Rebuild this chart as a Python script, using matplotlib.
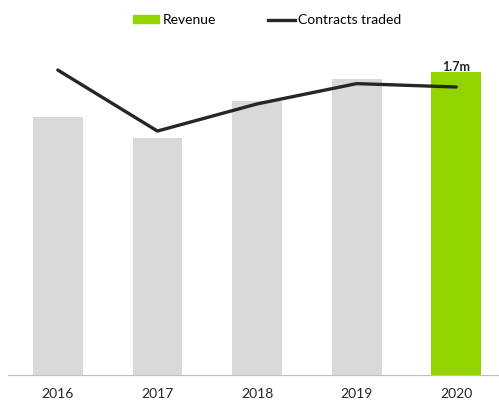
import matplotlib.pyplot as plt
from matplotlib.lines import Line2D
from matplotlib.patches import Patch

plt.rcParams['font.family'] = ['Lato', 'DejaVu Sans']

years = ["2016", "2017", "2018", "2019", "2020"]
revenue = [1.45, 1.33, 1.54, 1.66, 1.70]
contracts = [1.80, 1.44, 1.60, 1.72, 1.70]
bar_colors = ["#d9d9d9", "#d9d9d9", "#d9d9d9", "#d9d9d9", "#92d400"]

fig = plt.figure(figsize=(4.99, 4.03), dpi=100)
ax = fig.add_axes([8/499, 1 - 375/403, 498/499, 335/403])
x = range(len(years))
ax.bar(x, revenue, width=0.5, color=bar_colors, zorder=1)
ax.set_xlim(-0.5, 4.5)
ax.set_ylim(0, 1.7 * 335 / 303)

ax2 = ax.twinx()
ax2.plot(x, contracts, color="#262626", lw=2.4, solid_capstyle="round", zorder=3)
ax2.set_ylim(0, 1.7 * 335 / 288)

ax.annotate("1.7m", (4, revenue[4]), xytext=(0, -1), textcoords="offset points",
            ha="center", va="bottom", fontsize=9, fontweight="bold", color="#262626")

for a in (ax, ax2):
    for s in ["top", "right", "left"]:
        a.spines[s].set_visible(False)
    a.set_yticks([])
ax2.spines["bottom"].set_visible(False)
ax.spines["bottom"].set_color("#bfbfbf")
ax.set_xticks(list(x))
ax.set_xticklabels(years, fontsize=10, color="#262626")
ax.tick_params(axis="x", length=0, pad=9)

handles = [Patch(color="#92d400"), Line2D([0], [0], color="#262626", lw=2.4)]
fig.legend(handles, ["Revenue", "Contracts traded"], loc="center", bbox_to_anchor=(0.535, 1 - 20/403),
           ncol=2, frameon=False, fontsize=10, handlelength=1.9, handletextpad=0.2,
           columnspacing=3.8, handleheight=0.5)

fig.savefig("out.png", dpi=100)
